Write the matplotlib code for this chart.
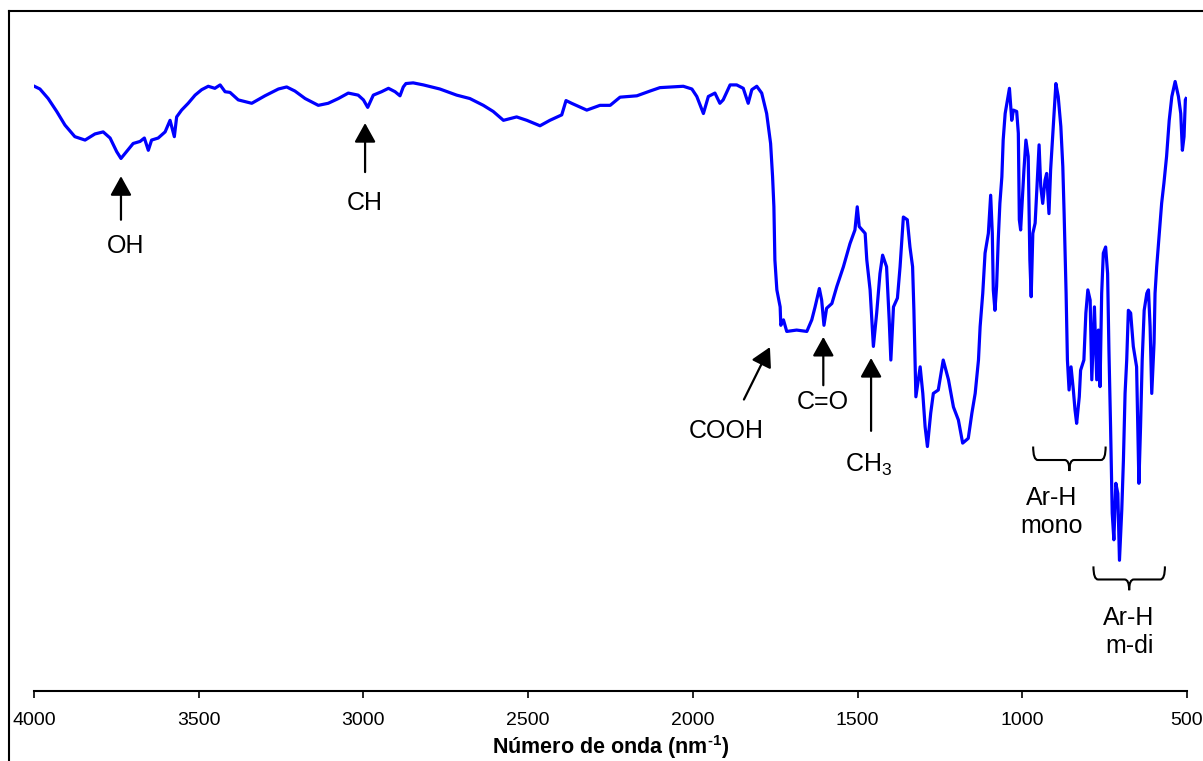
"""
FTIR spectrum with band assignments (OH, CH, COOH, C=O, CH3, Ar-H).
"""

import matplotlib
matplotlib.use("Agg")
import matplotlib.pyplot as plt
from matplotlib.lines import Line2D
from matplotlib.path import Path
from matplotlib.patches import PathPatch

plt.rcParams["font.family"] = ["Liberation Sans", "DejaVu Sans"]
plt.rcParams["mathtext.fontset"] = "custom"
plt.rcParams["mathtext.rm"] = "Liberation Sans"
plt.rcParams["mathtext.bf"] = "Liberation Sans:bold"
plt.rcParams["axes.unicode_minus"] = False

# spectrum (wavenumber, transmittance in arbitrary %)
wavenumber = [
    3999, 3982, 3957, 3931, 3906, 3876, 3845, 3815, 3790, 3769,
    3749, 3736, 3719, 3699, 3678, 3665, 3653, 3643, 3623, 3602,
    3587, 3574, 3567, 3552, 3532, 3511, 3491, 3471, 3451, 3435,
    3420, 3405, 3380, 3339, 3299, 3258, 3233, 3208, 3177, 3137,
    3107, 3076, 3046, 3016, 3000, 2987, 2970, 2945, 2924, 2904,
    2889, 2879, 2871, 2849, 2818, 2768, 2717, 2677, 2636, 2606,
    2575, 2535, 2504, 2464, 2434, 2398, 2385, 2368, 2322, 2282,
    2251, 2221, 2170, 2130, 2100, 2029, 2003, 1988, 1968, 1953,
    1933, 1918, 1908, 1887, 1867, 1847, 1832, 1821, 1806, 1791,
    1776, 1764, 1758, 1754, 1751, 1745, 1735, 1733, 1725, 1715,
    1685, 1654, 1639, 1629, 1616, 1609, 1602, 1594, 1578, 1563,
    1543, 1523, 1508, 1501, 1495, 1477, 1472, 1462, 1452, 1442,
    1432, 1424, 1412, 1404, 1399, 1391, 1379, 1371, 1361, 1349,
    1341, 1333, 1329, 1323, 1310, 1302, 1295, 1288, 1278, 1270,
    1255, 1240, 1224, 1209, 1194, 1181, 1164, 1153, 1143, 1133,
    1128, 1120, 1113, 1103, 1096, 1091, 1088, 1083, 1078, 1073,
    1068, 1062, 1058, 1052, 1039, 1032, 1027, 1017, 1012, 1009,
    1005, 1000, 995, 989, 982, 977, 973, 968, 961, 954,
    949, 944, 938, 931, 926, 919, 914, 906, 898, 891,
    883, 877, 873, 867, 863, 858, 852, 845, 840, 835,
    827, 823, 813, 807, 801, 794, 789, 781, 774, 769,
    764, 759, 754, 747, 741, 737, 732, 727, 722, 716,
    710, 705, 698, 693, 688, 683, 678, 671, 663, 653,
    646, 641, 636, 630, 622, 617, 612, 607, 600, 597,
    592, 584, 577, 570, 562, 554, 546, 536, 526, 519,
    514, 509, 505, 503,
]
transmittance = [
    88.8, 88.4, 87.0, 85.1, 83.1, 81.4, 80.9, 81.8, 82.1, 81.2,
    79.2, 78.2, 79.2, 80.4, 80.7, 81.2, 79.4, 80.9, 81.2, 82.1,
    83.8, 81.4, 84.3, 85.3, 86.3, 87.5, 88.3, 88.8, 88.5, 89.0,
    88.0, 87.9, 86.8, 86.3, 87.4, 88.4, 88.7, 88.1, 87.0, 86.0,
    86.3, 87.0, 87.8, 87.5, 86.8, 85.7, 87.5, 88.0, 88.5, 88.0,
    87.4, 88.7, 89.2, 89.3, 89.0, 88.4, 87.5, 87.0, 86.0, 85.1,
    83.8, 84.3, 83.8, 83.0, 83.8, 84.6, 86.7, 86.3, 85.3, 86.0,
    86.0, 87.2, 87.4, 88.1, 88.6, 88.8, 88.4, 87.3, 84.8, 87.3,
    87.8, 86.3, 86.8, 89.0, 89.0, 88.5, 86.3, 88.3, 88.8, 87.8,
    84.8, 80.4, 75.5, 71.1, 63.3, 58.9, 56.4, 53.7, 54.5, 52.8,
    53.0, 52.8, 54.5, 56.4, 59.1, 57.4, 53.7, 56.2, 56.9, 59.4,
    62.3, 65.7, 67.7, 71.1, 68.2, 67.2, 63.3, 58.9, 50.6, 55.5,
    61.3, 64.0, 62.3, 54.5, 48.6, 56.4, 57.7, 62.3, 69.6, 69.2,
    65.2, 62.3, 55.9, 43.2, 47.6, 43.7, 38.8, 35.9, 40.8, 43.7,
    44.2, 48.6, 45.7, 41.7, 39.8, 36.4, 37.1, 40.8, 43.7, 48.6,
    53.5, 58.4, 64.3, 67.2, 72.8, 67.2, 58.9, 55.9, 59.4, 66.2,
    71.6, 75.5, 80.9, 84.8, 88.5, 83.8, 85.3, 85.1, 81.9, 69.2,
    67.7, 72.1, 76.5, 80.9, 78.5, 63.3, 57.9, 67.2, 68.7, 75.5,
    80.2, 74.1, 71.6, 75.0, 76.0, 70.1, 76.5, 82.9, 89.2, 87.3,
    82.9, 77.0, 70.1, 58.4, 48.6, 44.2, 47.6, 44.2, 41.3, 39.3,
    43.2, 47.1, 48.6, 55.5, 58.9, 57.4, 45.7, 56.4, 45.7, 53.0,
    44.7, 58.4, 64.3, 65.2, 61.3, 50.1, 38.8, 26.1, 22.2, 30.5,
    29.0, 19.2, 26.6, 33.9, 43.7, 48.6, 55.9, 55.5, 50.6, 47.6,
    30.5, 38.8, 48.6, 55.9, 58.4, 58.9, 53.5, 43.7, 51.1, 58.4,
    62.3, 67.2, 71.6, 74.6, 78.5, 83.8, 87.3, 89.5, 87.3, 84.8,
    79.4, 81.4, 86.8, 87.0,
]

x_ticks = [4000, 3500, 3000, 2500, 2000, 1500, 1000, 500]

# arrow labels: text, text position, arrow tail, arrow tip
arrow_labels = ["OH", "CH", "COOH", "C=O", "CH$\\mathregular{_3}$"]
arrow_text_xy = [(3721, 65.3), (2995, 71.7), (1899, 38.2), (1604, 42.5), (1467, 33.2)]
arrow_tail_xy = [(3736, 69.2), (2995, 76.2), (1845, 42.8), (1604, 44.9), (1459, 38.2)]
arrow_tip_xy = [(3736, 75.6), (2995, 83.4), (1766, 50.5), (1604, 52.0), (1459, 48.9)]

# brace labels: text, text position, brace span (left, right), brace top, brace tip
brace_labels = ["Ar-H\nmono", "Ar-H\nm-di"]
brace_text_xy = [(911, 26.3), (676, 8.7)]
brace_span = [(967, 747), (784, 567)]
brace_top = [35.9, 18.3]
brace_tip = [32.3, 14.8]


def draw_brace(ax, x0, x1, y_top, y_tip, w=14):
    y_mid = y_top - 0.55 * (y_top - y_tip)
    xc = 0.5 * (x0 + x1)
    s = 1 if x1 > x0 else -1
    verts = [
        (x0, y_top), (x0, y_mid), (x0 + s * w, y_mid),
        (xc - s * w, y_mid),
        (xc, y_mid), (xc, y_tip),
        (xc, y_mid), (xc + s * w, y_mid),
        (x1 - s * w, y_mid),
        (x1, y_mid), (x1, y_top),
    ]
    codes = [
        Path.MOVETO, Path.CURVE3, Path.CURVE3,
        Path.LINETO,
        Path.CURVE3, Path.CURVE3,
        Path.CURVE3, Path.CURVE3,
        Path.LINETO,
        Path.CURVE3, Path.CURVE3,
    ]
    ax.add_patch(PathPatch(Path(verts, codes), fill=False, lw=1.5, color="black"))


fig = plt.figure(figsize=(12.03, 7.61), dpi=100)
ax = fig.add_axes([34 / 1203, 70 / 761, 1153 / 1203, 681 / 761])

ax.plot(wavenumber, transmittance, color="#0000ff", lw=2.3)

ax.set_xlim(4000, 500)
ax.set_ylim(0, 100)
ax.set_xticks(x_ticks)
ax.set_xticklabels([str(t) for t in x_ticks], fontsize=14)
ax.set_yticks([])
for side in ["left", "right", "top"]:
    ax.spines[side].set_visible(False)
ax.spines["bottom"].set_linewidth(1.5)
ax.tick_params(axis="x", direction="out", length=5, width=1.2, pad=10)
# U+2010 hyphen so the superscript shows "-1" like the original, not a minus sign
ax.set_xlabel("Número de onda (nm$\\mathregular{^{\u20101}}$)", fontsize=15.5,
              fontweight="bold", labelpad=3)

for label, txy, tail, tip in zip(arrow_labels, arrow_text_xy, arrow_tail_xy, arrow_tip_xy):
    ax.annotate("", xy=tip, xytext=tail,
                arrowprops=dict(arrowstyle="-|>,head_length=0.45,head_width=0.25",
                                mutation_scale=26, lw=1.6, color="black",
                                shrinkA=0, shrinkB=0))
    ax.text(txy[0], txy[1], label, fontsize=18, ha="center", va="center")

for label, txy, span, top, tip in zip(brace_labels, brace_text_xy, brace_span, brace_top, brace_tip):
    draw_brace(ax, span[0], span[1], top, tip)
    ax.text(txy[0], txy[1], label, fontsize=18, ha="center", va="center",
            linespacing=1.2)

# outer frame (cut off on the right and bottom in the original)
fig.add_artist(Line2D([9 / 1203, 9 / 1203], [0, 1 - 11 / 761],
                      transform=fig.transFigure, color="black", lw=1.5))
fig.add_artist(Line2D([9 / 1203, 1], [1 - 11 / 761, 1 - 11 / 761],
                      transform=fig.transFigure, color="black", lw=1.5))

fig.savefig("out.png", dpi=100)
